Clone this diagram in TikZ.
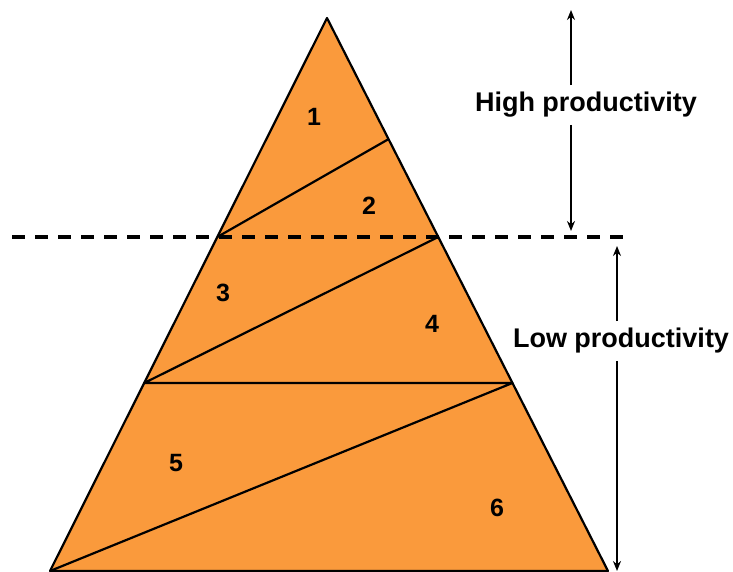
\documentclass[tikz,border=0pt]{standalone}
\usepackage{fontspec}
\setmainfont{Liberation Sans}
\usetikzlibrary{arrows.meta,calc,positioning}
\definecolor{pyrOrange}{HTML}{FA9A3C}

\begin{document}
\begin{tikzpicture}[x=1pt,y=-1pt,>={Stealth[length=10pt,width=8pt]},
    edge/.style={line width=2.2pt,line join=round},
    level/.style={line width=3.8pt,dash pattern=on 13pt off 10pt},
    span/.style={->,line width=2.6pt},
    band/.style={font=\fontsize{27}{30}\selectfont\bfseries,inner sep=7pt},
    num/.style={font=\fontsize{25}{28}\selectfont\bfseries}]
  \useasboundingbox (0,0) rectangle (733,571);
  \coordinate (top) at (327,18);
  \coordinate (bl) at (50,571);
  \coordinate (br) at (608,571);
  \fill[pyrOrange] (top) -- (bl) -- (br) -- cycle;
  % layer boundaries on the two sides
  \coordinate (r1) at ($(top)!0.219!(br)$);
  \coordinate (l2) at ($(top)!0.396!(bl)$);
  \coordinate (r2) at ($(top)!0.396!(br)$);
  \coordinate (l3) at ($(top)!0.66!(bl)$);
  \coordinate (r3) at ($(top)!0.66!(br)$);
  \draw[edge] (r1) -- (l2);
  \draw[edge] (r2) -- (l3) -- (r3) -- (bl);
  \draw[edge] (top) -- (bl) -- (br) -- cycle;
  \coordinate (dl) at (12,237);
  \coordinate (dr) at (628,237);
  \draw[level] (dl) -- (dr);

  \node[num] (n1) at (314,117) {1};
  \node[num] (n2) at (369,206) {2};
  \node[num] (n3) at (223,293) {3};
  \node[num] (n4) at (432,324) {4};
  \node[num] (n5) at (176,463) {5};
  \node[num] (n6) at (497,508) {6};

  \node[band] (high) at (586,105) {High productivity};
  \node[band] (low) at (621,341) {Low productivity};
  \coordinate (hTop) at (571,10);
  \coordinate (hBot) at (571,231);
  \coordinate (lTop) at (617,246);
  \coordinate (lBot) at (617,571);
  \draw[span] (high.north -| hTop) -- (hTop);
  \draw[span] (high.south -| hBot) -- (hBot);
  \draw[span] (low.north -| lTop) -- (lTop);
  \draw[span] (low.south -| lBot) -- (lBot);
\end{tikzpicture}
\end{document}
